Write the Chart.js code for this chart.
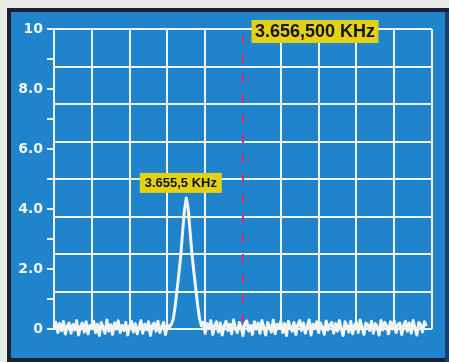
<!DOCTYPE html>
<html>
<head>
<meta charset="utf-8">
<script src="https://cdn.jsdelivr.net/npm/chart.js@4/dist/chart.umd.min.js"></script>
<style>
  html,body{margin:0;padding:0;background:#e9e9e5;}
  #wrap{position:relative;width:449px;height:362px;overflow:hidden;}
  #frame{position:absolute;left:7px;top:8px;width:442px;height:354px;background:#1b2233;}
  #panel{position:absolute;left:11px;top:12px;width:434px;height:346px;background:#1f84cc;}
  #edge{position:absolute;left:445px;top:12px;width:4px;height:350px;background:#1d3f6e;}
  canvas{position:absolute;left:0;top:0;}
</style>
</head>
<body>
<div id="wrap">
  <div id="frame"></div>
  <div id="panel"></div>
  <div id="edge"></div>
  <canvas id="c" width="449" height="362"></canvas>
</div>
<script>
// Spectrum trace: level samples every 0.5 horizontal grid units (0 .. 99)
const traceLevels = [
  0.05, 0.22, -0.12, 0.18, -0.06, 0.25, -0.17, 0.1, 0.2, -0.14, 0.15, -0.03, 0.28, -0.2, 0.08, 0.2, -0.1, 0.24, -0.16, 0.12,
  0.02, 0.26, -0.12, 0.16, -0.22, 0.22, 0.04, -0.14, 0.3, -0.07, 0.14, -0.18, 0.2, 0.0, 0.27, -0.12, 0.12, -0.05, 0.22, -0.2,
  0.1, 0.25, -0.1, 0.18, -0.16, 0.06, 0.28, -0.14, 0.16, -0.03, 0.24, -0.22, 0.12, 0.2, -0.07, 0.26, -0.12, 0.08, 0.22, -0.18,
  0.14, 0.05,
  // signal peak
  0.15, 0.3, 0.7, 1.25, 1.8, 2.4, 3.2, 3.95, 4.37, 4.0, 3.25, 2.5, 1.9, 1.35, 0.8, 0.35, 0.1,
  0.22, -0.14, 0.18, 0.04, 0.28, -0.18, 0.12, 0.24, -0.1, 0.2,
  -0.2, 0.1, 0.26, -0.05, 0.16, -0.16, 0.3, 0.02, -0.12, 0.22,
  0.08, -0.22, 0.18, 0.27, -0.07, 0.12, -0.18, 0.24, 0.0, 0.2,
  -0.14, 0.28, 0.06, -0.2, 0.22, 0.1, -0.1, 0.3, -0.16, 0.16,
  0.04, 0.25, -0.12, 0.18, -0.22, 0.26, 0.08, -0.07, 0.22, -0.18,
  0.14, 0.28, -0.05, 0.2, -0.14, 0.1, 0.3, -0.2, 0.16, 0.02,
  0.24, -0.12, 0.2, 0.06, -0.18, 0.27, -0.03, 0.14, 0.22, -0.14,
  0.18, -0.07, 0.28, 0.0, -0.22, 0.24, 0.1, -0.1, 0.26, -0.16,
  0.12, 0.22, -0.12, 0.3, 0.04, -0.18, 0.2, 0.14, -0.05, 0.26,
  -0.14, 0.18, 0.08, -0.2, 0.28, -0.03, 0.22, 0.1, -0.16, 0.24,
  0.0, 0.27, -0.12, 0.16, 0.2, -0.18, 0.12, 0.26, -0.07, 0.2,
  -0.14, 0.28, 0.04, -0.2, 0.22, 0.14, -0.1, 0.24, 0.1
];
const sampleStep = 0.5;

// marker (center frequency) and peak
const markerPos = 50;          // grid units
const markerSpan = [0.2, 9.8]; // level range of dashed marker
const markerLabel = "3.656,500 KHz";
const peakPos = 35;
const peakLevel = 4.37;
const peakLabel = "3.655,5 KHz";

// y tick labels
const yTickLabels = {10: "10", 8: "8.0", 6: "6.0", 4: "4.0", 2: "2.0", 0: "0"};

const gridWhite = '#eef2f5';

const tracePoints = traceLevels.map((v, i) => ({x: i * sampleStep, y: v}));
const markerPoints = markerSpan.map(v => ({x: markerPos, y: v}));

function drawTag(ctx, text, left, top, w, h, size) {
  ctx.save();
  ctx.fillStyle = '#e4d212';
  ctx.fillRect(left, top, w, h);
  ctx.fillStyle = '#141414';
  ctx.font = 'bold ' + size + 'px "Liberation Sans", Arial, sans-serif';
  ctx.textAlign = 'center';
  ctx.textBaseline = 'middle';
  ctx.fillText(text, left + w / 2, top + h / 2 + 1);
  ctx.restore();
}

const tagPlugin = {
  id: 'tags',
  afterDatasetsDraw(chart) {
    const {ctx, scales} = chart;
    const mx = scales.x.getPixelForValue(markerPos);
    drawTag(ctx, markerLabel, mx + 8.5, 20, 127, 23, 18);
    const px = scales.x.getPixelForValue(peakPos);
    const py = scales.y.getPixelForValue(peakLevel);
    drawTag(ctx, peakLabel, px - 46.5, py - 25, 82, 20, 13);
  }
};

new Chart(document.getElementById('c'), {
  type: 'line',
  data: {
    datasets: [
      {data: tracePoints, borderColor: '#f3f5f2', borderWidth: 3, pointRadius: 0, tension: 0, borderJoinStyle: 'round', clip: false, yAxisID: 'y'},
      {data: markerPoints, borderColor: '#c8306a', borderWidth: 2, borderDash: [9, 11], pointRadius: 0, yAxisID: 'y'}
    ]
  },
  options: {
    responsive: false,
    animation: false,
    layout: {padding: {top: 29, bottom: 33, left: 0, right: 17}},
    plugins: {legend: {display: false}, tooltip: {enabled: false}},
    scales: {
      x: {
        type: 'linear', min: 0, max: 100,
        ticks: {display: false, stepSize: 10},
        grid: {color: c => (c.tick && c.tick.value === markerPos) ? 'rgba(0,0,0,0)' : gridWhite, lineWidth: 2, drawTicks: false},
        border: {display: false},
        afterFit: s => { s.height = 0; }
      },
      y: {
        min: 0, max: 10,
        ticks: {
          stepSize: 1, autoSkip: false, padding: 4, color: '#f4f6f8',
          font: {family: 'DejaVu Sans', weight: 'bold', size: 14},
          callback: v => (yTickLabels[v] !== undefined ? yTickLabels[v] : '')
        },
        grid: {drawOnChartArea: false, drawTicks: true, tickLength: 7, color: gridWhite, lineWidth: 2},
        border: {display: false},
        afterFit: s => { s.width = 54; }
      },
      yg: {
        position: 'right', min: 0, max: 10,
        ticks: {display: false, stepSize: 1.25},
        grid: {color: gridWhite, lineWidth: 2, drawTicks: false},
        border: {display: false},
        afterFit: s => { s.width = 0; }
      }
    }
  },
  plugins: [tagPlugin]
});
</script>
</body>
</html>
